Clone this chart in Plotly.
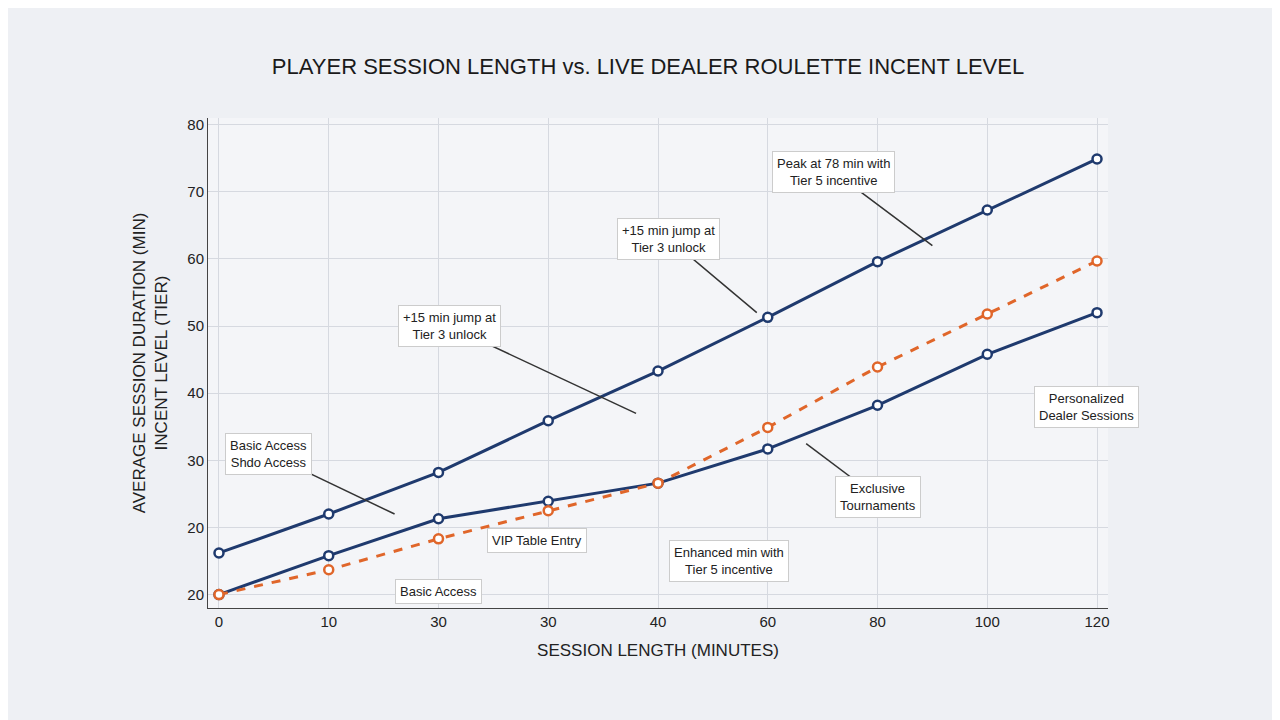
import plotly.graph_objects as go

x_labels = ["0", "10", "30", "30", "40", "60", "80", "100", "120"]
y_tickvals = [10, 20, 30, 40, 50, 60, 70, 80]
y_ticktext = ["20", "20", "30", "40", "50", "60", "70", "80"]
upper = [16.2, 22.0, 28.2, 35.9, 43.3, 51.3, 59.6, 67.3, 74.9]
lower = [10.0, 15.8, 21.3, 23.9, 26.6, 31.7, 38.2, 45.8, 52.0]
orange = [10.0, 13.7, 18.3, 22.5, 26.6, 34.9, 43.9, 51.8, 59.7]
xi = list(range(len(x_labels)))

navy = "#1f3a6e"
org = "#e0662a"
fig = go.Figure()
fig.add_trace(go.Scatter(x=xi, y=upper, mode="lines+markers", line=dict(color=navy, width=3),
                         marker=dict(size=9, color="white", line=dict(color=navy, width=2.5))))
fig.add_trace(go.Scatter(x=xi, y=lower, mode="lines+markers", line=dict(color=navy, width=3),
                         marker=dict(size=9, color="white", line=dict(color=navy, width=2.5))))
fig.add_trace(go.Scatter(x=xi, y=orange, mode="lines+markers", line=dict(color=org, width=3, dash="dash"),
                         marker=dict(size=9, color="white", line=dict(color=org, width=2.5))))

notes = [
    (5.6, 73, "Peak at 78 min with<br>Tier 5 incentive", 6.5, 62),
    (4.1, 63, "+15 min jump at<br>Tier 3 unlock", 4.9, 52),
    (2.1, 50, "+15 min jump at<br>Tier 3 unlock", 3.8, 37),
    (0.45, 31, "Basic Access<br>Shdo Access", 1.6, 22),
    (2.9, 18, "VIP Table Entry", None, None),
    (2.0, 10.5, "Basic Access", None, None),
    (4.65, 15, "Enhanced min with<br>Tier 5 incentive", None, None),
    (6.0, 24.5, "Exclusive<br>Tournaments", 5.35, 32.5),
    (7.9, 38, "Personalized<br>Dealer Sessions", None, None),
]
for x, y, t, ax, ay in notes:
    if ax is not None:
        fig.add_shape(type="line", x0=x, y0=y, x1=ax, y1=ay, line=dict(color="#333", width=1.5))
    fig.add_annotation(x=x, y=y, text=t, showarrow=False, bgcolor="white",
                       bordercolor="#ccc", borderwidth=1, borderpad=4,
                       font=dict(size=13, color="#222", family="Liberation Sans"))

fig.update_layout(
    width=1280, height=720,
    title=dict(text="PLAYER SESSION LENGTH vs. LIVE DEALER ROULETTE INCENT LEVEL", x=0.5, y=0.93,
               font=dict(size=22, color="#1a1a1a", family="Liberation Sans")),
    paper_bgcolor="#eef0f4", plot_bgcolor="#f4f5f8",
    showlegend=False,
    margin=dict(l=200, r=180, t=110, b=120),
    font=dict(family="Liberation Sans", color="#222", size=15),
    xaxis=dict(tickvals=xi, ticktext=x_labels, range=[-0.1, 8.1], showgrid=True, gridcolor="#d6d9e0",
               title=dict(text="SESSION LENGTH (MINUTES)", font=dict(size=17)), showline=True, linecolor="#444",
               zeroline=False),
    yaxis=dict(tickvals=y_tickvals, ticktext=y_ticktext, range=[8, 81], showgrid=True, gridcolor="#d6d9e0",
               title=dict(text="AVERAGE SESSION DURATION (MIN)<br>INCENT LEVEL (TIER)", font=dict(size=17)),
               showline=True, linecolor="#444", zeroline=False),
)
fig.write_html("out.html")
